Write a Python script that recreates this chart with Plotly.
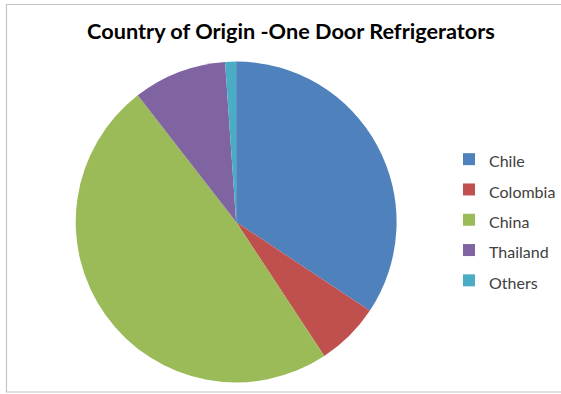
import plotly.graph_objects as go

categories = ["Chile", "Colombia", "China", "Thailand", "Others"]
shares = [34.3, 6.4, 48.7, 9.4, 1.1]
colors = ["#4F81BD", "#C0504D", "#9BBB59", "#8064A2", "#4BACC6"]
title_text = "Country of Origin -One Door Refrigerators"

W, H = 561, 394

labels = [f'<span style="font-size:16px">{c}</span>' for c in categories]

fig = go.Figure(go.Pie(
    labels=labels,
    values=shares,
    sort=False,
    direction="clockwise",
    rotation=0,
    marker=dict(colors=colors, line=dict(width=0)),
    textinfo="none",
    hoverinfo="label+percent",
    domain=dict(x=[76 / W, 398 / W], y=[1 - 383 / H, 1 - 61 / H]),
))

fig.update_layout(
    width=W, height=H,
    margin=dict(l=0, r=0, t=0, b=0),
    paper_bgcolor="white",
    plot_bgcolor="white",
    title=dict(text=f"<b>{title_text}</b>", x=291 / W, xanchor="center",
               y=1 - 31 / H, yanchor="middle",
               font=dict(family="Lato", size=21.7, color="#000000")),
    legend=dict(x=451 / W, xanchor="left", y=1 - 220 / H, yanchor="middle",
                font=dict(family="Lato", size=21, color="#404040"),
                bgcolor="rgba(0,0,0,0)"),
    shapes=[dict(type="rect", xref="paper", yref="paper",
                 x0=6.5 / W, x1=1.05, y0=1 - 392 / H, y1=1 - 4.5 / H,
                 line=dict(color="#C4C4C4", width=1.2), fillcolor="rgba(0,0,0,0)",
                 layer="below")],
)

fig.write_html("out.html",
               config={"displayModeBar": False},
               post_script="document.body.style.margin='0';document.body.style.overflow='hidden';")
